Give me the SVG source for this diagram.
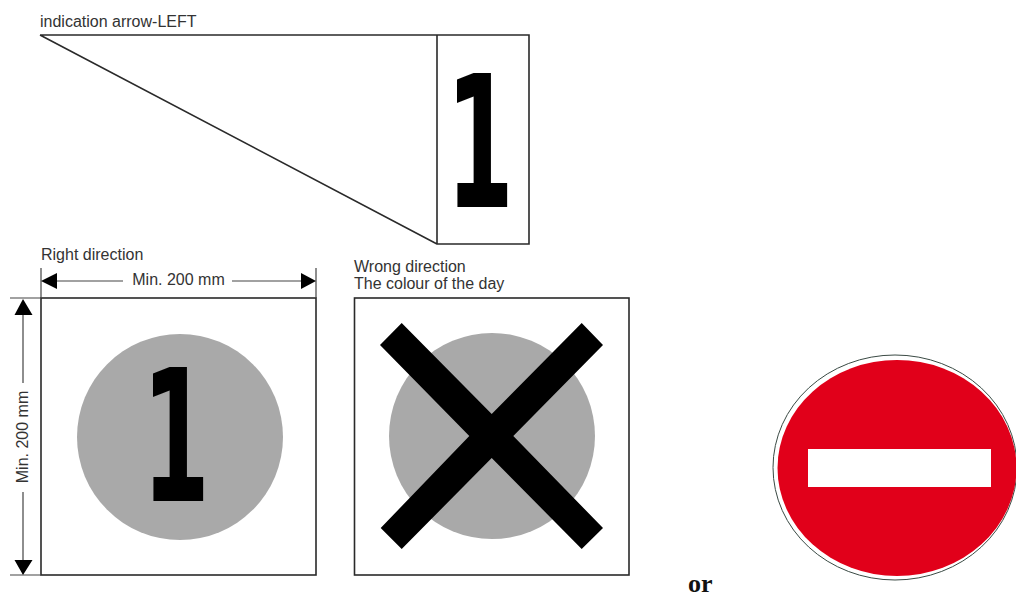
<svg xmlns="http://www.w3.org/2000/svg" width="1016" height="599" viewBox="0 0 1016 599">
<style>
.ln{fill:none;stroke:#2a2a2a;stroke-width:1.6}
.dim{fill:none;stroke:#444;stroke-width:1.2}
.lab{font-family:"Liberation Sans",Arial,sans-serif;font-size:16px;fill:#333}
.num{font-family:"DejaVu Sans",sans-serif;font-weight:700;font-size:184px;fill:#000}
.disc{fill:#a9a9a9}
</style>
<rect width="1016" height="599" fill="#fff"/>
<g id="indication-arrow">
<path class="ln" d="M40 35H529V244H437V35M40 35L437 244"/>
<text class="num" transform="translate(446 206.500) scale(0.53 1)">1</text>
<text class="lab" x="40" y="27">indication arrow-LEFT</text>
</g>
<g id="right-direction">
<rect class="ln" x="41" y="298" width="275" height="277"/>
<circle class="disc" cx="180" cy="437" r="103"/>
<text class="num" transform="translate(142 500.500) scale(0.53 1)">1</text>
<text class="lab" x="41" y="260">Right direction</text>
</g>
<g id="wrong-direction">
<rect class="ln" x="354.500" y="298" width="274.500" height="277"/>
<circle class="disc" cx="492" cy="436" r="103"/>
<polygon fill="#000" points="380,345 401.700,323 491.700,414 581.700,323 603,345 513.300,436 603,528 581.700,549 491.700,458 401.700,549 380.700,528 469.300,436"/>
<text class="lab" x="354" y="272">Wrong direction</text>
<text class="lab" x="354" y="289">The colour of the day</text>
</g>
<g id="no-entry-sign">
<ellipse cx="895" cy="467.500" rx="122" ry="112.500" fill="#fff" stroke="#3a4a44" stroke-width="1"/>
<ellipse cx="897" cy="468" rx="119.500" ry="108" fill="#e1001a"/>
<rect x="808" y="449" width="183" height="38" fill="#fff"/>
</g>
<text id="or-label" x="688" y="592" font-family="'Liberation Serif','Times New Roman',serif" font-weight="700" font-size="26" fill="#111">or</text>
<g id="connectors">
<path class="dim" d="M41 268V298M316 268V298M10 298H41M10 575H41"/>
<path class="dim" d="M55 281H123M232 281H302M23 312V383M23 492V562"/>
<path fill="#000" d="M41 281L57 273V289ZM316 281L301 273V289ZM23 299L14.500 315H32.500ZM23 575L14.500 560H32.500Z"/>
<text class="lab" x="178.500" y="285" text-anchor="middle">Min. 200 mm</text>
<text class="lab" transform="translate(28 437) rotate(-90)" text-anchor="middle">Min. 200 mm</text>
</g>
</svg>
